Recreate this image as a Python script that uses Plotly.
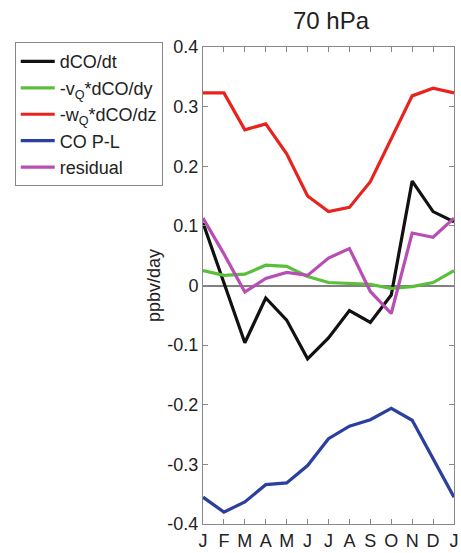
import plotly.graph_objects as go

months = ["J", "F", "M", "A", "M", "J", "J", "A", "S", "O", "N", "D", "J"]
month_idx = list(range(len(months)))

dco_dt = [0.105, 0.003, -0.096, -0.021, -0.058, -0.123, -0.088, -0.042, -0.062, -0.016, 0.175, 0.124, 0.107]
v_term = [0.025, 0.017, 0.019, 0.034, 0.032, 0.015, 0.005, 0.003, 0.002, -0.005, -0.002, 0.005, 0.025]
w_term = [0.323, 0.323, 0.261, 0.271, 0.221, 0.150, 0.124, 0.131, 0.174, 0.246, 0.318, 0.331, 0.323]
co_pl = [-0.355, -0.380, -0.363, -0.334, -0.331, -0.302, -0.257, -0.236, -0.225, -0.206, -0.226, -0.290, -0.355]
residual = [0.113, 0.053, -0.011, 0.012, 0.022, 0.017, 0.046, 0.062, -0.010, -0.047, 0.088, 0.081, 0.113]

series = [
    ("dCO/dt", dco_dt, "#111111"),
    ("-v<sub>Q</sub>*dCO/dy", v_term, "#5cbf3c"),
    ("-w<sub>Q</sub>*dCO/dz", w_term, "#e8231e"),
    ("CO P-L", co_pl, "#2b3f9e"),
    ("residual", residual, "#b84db4"),
]

yticks = [0.4, 0.3, 0.2, 0.1, 0.0, -0.1, -0.2, -0.3, -0.4]
ytick_text = ["0.4", "0.3", "0.2", "0.1", "0", "-0.1", "-0.2", "-0.3", "-0.4"]

fig = go.Figure()
for name, vals, color in series:
    fig.add_trace(go.Scatter(x=month_idx, y=vals, mode="lines", name=name,
                             line=dict(color=color, width=3.2)))

font = "Liberation Sans, Arial, sans-serif"
fig.update_layout(
    width=461, height=553,
    margin=dict(l=203, r=2, t=47, b=22),
    paper_bgcolor="white", plot_bgcolor="white",
    font=dict(family=font, size=18, color="#222222"),
    title=dict(text="70 hPa", x=331/461, xanchor="center", y=1-21/553, yanchor="middle",
               font=dict(size=24, color="#222222")),
    showlegend=True,
    legend=dict(x=-0.75, y=1.01, xanchor="left", yanchor="top",
                bordercolor="#888888", borderwidth=1, bgcolor="white",
                font=dict(size=18), itemwidth=34, tracegroupgap=0),
)
fig.update_xaxes(range=[0, 12], tickvals=month_idx, ticktext=months,
                 ticks="inside", ticklen=5, tickcolor="#888888",
                 showline=True, linecolor="#888888", linewidth=1, mirror="ticks",
                 showgrid=False, zeroline=False, tickfont=dict(size=18),
                 ticklabeloverflow="allow")
fig.update_yaxes(range=[-0.4, 0.4], tickvals=yticks, ticktext=ytick_text,
                 ticks="inside", ticklen=5, tickcolor="#888888",
                 showline=True, linecolor="#888888", linewidth=1, mirror="ticks",
                 showgrid=False, zeroline=True, zerolinecolor="#808080", zerolinewidth=2,
                 title=dict(text="ppbv/day", font=dict(size=18), standoff=2),
                 tickfont=dict(size=18))

fig.write_html("out.html")
